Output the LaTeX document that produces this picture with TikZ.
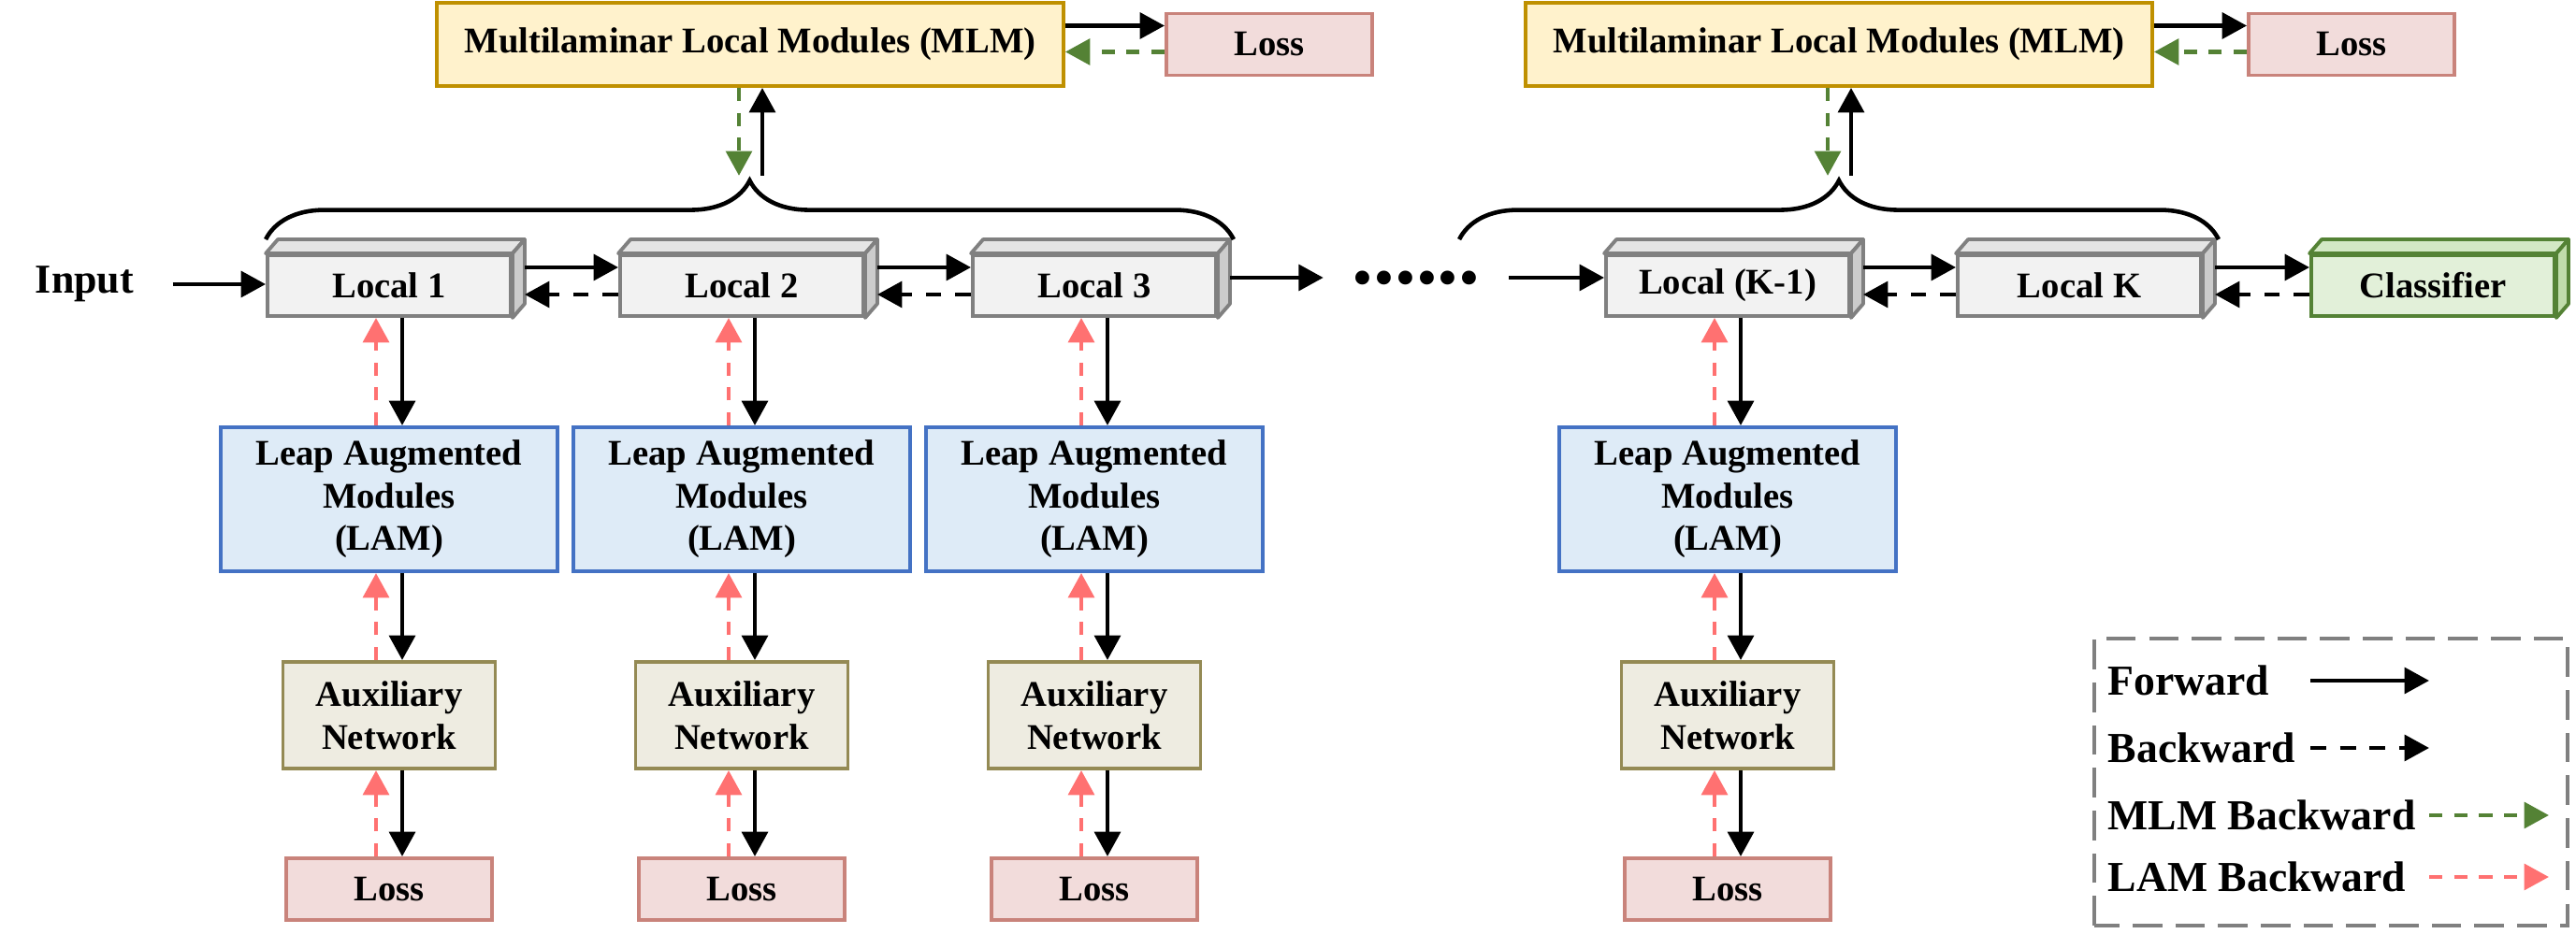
\documentclass[tikz,border=0pt]{standalone}
\usepackage{fontspec}
\setmainfont{Liberation Serif}
\usetikzlibrary{arrows.meta,calc,decorations.pathreplacing}

\definecolor{mlmfill}{HTML}{FFF2CC}
\definecolor{mlmline}{HTML}{BF9000}
\definecolor{lossfill}{HTML}{F2DCDB}
\definecolor{lossline}{HTML}{C9837B}
\definecolor{lamfill}{HTML}{DEEBF7}
\definecolor{lamline}{HTML}{4472C4}
\definecolor{auxfill}{HTML}{EEECE1}
\definecolor{auxline}{HTML}{948A54}
\definecolor{clsfill}{HTML}{E2F0D9}
\definecolor{clstop}{HTML}{D3E8C5}
\definecolor{clsside}{HTML}{C0DCAB}
\definecolor{clsline}{HTML}{548235}
\definecolor{mlmgreen}{HTML}{548235}
\definecolor{lamred}{HTML}{FF7171}

\newcommand{\slabfaces}[4]{%
  \filldraw[draw=#2,fill=#3,line width=1.1pt,line join=round] (#1.north west) -- ++(0.13,0.15) -- ($(#1.north east)+(0.13,0.15)$) -- (#1.north east) -- cycle;
  \filldraw[draw=#2,fill=#4,line width=1.1pt,line join=round] (#1.north east) -- ++(0.13,0.15) -- ($(#1.south east)+(0.13,0.15)$) -- (#1.south east) -- cycle;
}

\begin{document}
\begin{tikzpicture}[
    font=\bfseries\fontsize{11}{13}\selectfont,
    box/.style={draw,line width=1.1pt,align=center,inner sep=0pt},
    mlm/.style={box,draw=mlmline,fill=mlmfill,minimum width=6.7cm,minimum height=0.89cm},
    loss/.style={box,draw=lossline,fill=lossfill,minimum width=2.2cm,minimum height=0.66cm},
    lam/.style={box,draw=lamline,fill=lamfill,minimum width=3.6cm,minimum height=1.54cm},
    aux/.style={box,draw=auxline,fill=auxfill,minimum width=2.27cm,minimum height=1.14cm},
    slab/.style={box,draw=gray,fill=gray!10,minimum width=2.6cm,minimum height=0.65cm},
    fwd/.style={line width=1.4pt,-{Triangle[length=7.5pt,width=7.8pt]}},
    bwd/.style={fwd,dash pattern=on 4.8pt off 4.2pt},
    mlmback/.style={fwd,mlmgreen,dash pattern=on 4pt off 3.6pt},
    lamback/.style={fwd,lamred,dash pattern=on 4pt off 3.6pt},
    curly/.style={line width=1.3pt,decorate,decoration={brace,amplitude=0.63cm}},
    keytext/.style={anchor=west,inner sep=0pt,font=\bfseries\fontsize{13}{15}\selectfont}
]
\useasboundingbox (0,0) rectangle (27.54,9.99);

\node[mlm] (mlmA) at (8.02,9.515) {Multilaminar Local Modules (MLM)};
\node[loss] (lossTA) at (13.57,9.515) {Loss};
\node[mlm] (mlmB) at (19.66,9.515) {Multilaminar Local Modules (MLM)};
\node[loss] (lossTB) at (25.14,9.515) {Loss};
\draw[fwd] ($(mlmA.east)+(0,0.2)$) -- ($(lossTA.west)+(0,0.2)$);
\draw[mlmback] ($(lossTA.west)+(0,-0.08)$) -- ($(mlmA.east)+(0,-0.08)$);
\draw[fwd] ($(mlmB.east)+(0,0.2)$) -- ($(lossTB.west)+(0,0.2)$);
\draw[mlmback] ($(lossTB.west)+(0,-0.08)$) -- ($(mlmB.east)+(0,-0.08)$);

\node[inner xsep=0.41cm,font=\bfseries\fontsize{12.5}{14}\selectfont] (input) at (0.905,6.95) {Input};
\node[slab] (locA) at (4.16,6.935) {Local 1};
\node[slab] (locB) at (7.93,6.935) {Local 2};
\node[slab] (locC) at (11.70,6.935) {Local 3};
\node[inner xsep=0.3cm,inner ysep=0pt,text height=0.128cm,text depth=0pt,font=\bfseries\fontsize{26}{26}\selectfont] (dots) at (15.14,7.02) {......};
\node[slab] (locK1) at (18.47,6.935) {Local (K-1)};
\node[slab] (locK) at (22.23,6.935) {Local K};
\node[slab,draw=clsline,fill=clsfill] (clsf) at (26.01,6.935) {Classifier};
\slabfaces{locA}{gray}{gray!20}{gray!40}
\slabfaces{locB}{gray}{gray!20}{gray!40}
\slabfaces{locC}{gray}{gray!20}{gray!40}
\slabfaces{locK1}{gray}{gray!20}{gray!40}
\slabfaces{locK}{gray}{gray!20}{gray!40}
\slabfaces{clsf}{clsline}{clstop}{clsside}

\draw[fwd] (input.east) -- (input.east -| locA.west);
\draw[fwd] ($(locA.east)+(0.13,0.195)$) -- ($(locB.west)+(0,0.195)$);
\draw[bwd] ($(locB.west)+(0,-0.095)$) -- ($(locA.east)+(0.13,-0.095)$);
\draw[fwd] ($(locB.east)+(0.13,0.195)$) -- ($(locC.west)+(0,0.195)$);
\draw[bwd] ($(locC.west)+(0,-0.095)$) -- ($(locB.east)+(0.13,-0.095)$);
\draw[fwd] ($(locC.east |- dots.west)+(0.13,0)$) -- (dots.west);
\draw[fwd] (dots.east) -- (dots.east -| locK1.west);
\draw[fwd] ($(locK1.east)+(0.13,0.195)$) -- ($(locK.west)+(0,0.195)$);
\draw[bwd] ($(locK.west)+(0,-0.095)$) -- ($(locK1.east)+(0.13,-0.095)$);
\draw[fwd] ($(locK.east)+(0.13,0.195)$) -- ($(clsf.west)+(0,0.195)$);
\draw[bwd] ($(clsf.west)+(0,-0.095)$) -- ($(locK.east)+(0.13,-0.095)$);

\draw[curly] ($(locA.north west)+(0,0.15)$) -- ($(locC.north east)+(0.17,0.15)$);
\draw[curly] ($(locK1.north west)+(-1.55,0.15)$) -- ($(locK.north east)+(0.17,0.15)$);
\draw[mlmback] ($(mlmA.south)+(-0.12,0)$) -- ++(0,-0.94);
\draw[fwd] ($(mlmA.south)+(0.13,-0.94)$) -- ($(mlmA.south)+(0.13,0)$);
\draw[mlmback] ($(mlmB.south)+(-0.12,0)$) -- ++(0,-0.94);
\draw[fwd] ($(mlmB.south)+(0.13,-0.94)$) -- ($(mlmB.south)+(0.13,0)$);

\node[lam] (lamA) at (4.16,4.65) {Leap Augmented\\Modules\\(LAM)};
\node[aux] (auxA) at (4.16,2.34) {Auxiliary\\Network};
\node[loss] (lossA) at (4.16,0.48) {Loss};
\node[lam] (lamB) at (7.93,4.65) {Leap Augmented\\Modules\\(LAM)};
\node[aux] (auxB) at (7.93,2.34) {Auxiliary\\Network};
\node[loss] (lossB) at (7.93,0.48) {Loss};
\node[lam] (lamC) at (11.70,4.65) {Leap Augmented\\Modules\\(LAM)};
\node[aux] (auxC) at (11.70,2.34) {Auxiliary\\Network};
\node[loss] (lossC) at (11.70,0.48) {Loss};
\node[lam] (lamK1) at (18.47,4.65) {Leap Augmented\\Modules\\(LAM)};
\node[aux] (auxK1) at (18.47,2.34) {Auxiliary\\Network};
\node[loss] (lossK1) at (18.47,0.48) {Loss};

\draw[fwd] ($(locA.south)+(0.14,0)$) -- ($(lamA.north)+(0.14,0)$);
\draw[lamback] ($(lamA.north)+(-0.14,0)$) -- ($(locA.south)+(-0.14,0)$);
\draw[fwd] ($(lamA.south)+(0.14,0)$) -- ($(auxA.north)+(0.14,0)$);
\draw[lamback] ($(auxA.north)+(-0.14,0)$) -- ($(lamA.south)+(-0.14,0)$);
\draw[fwd] ($(auxA.south)+(0.14,0)$) -- ($(lossA.north)+(0.14,0)$);
\draw[lamback] ($(lossA.north)+(-0.14,0)$) -- ($(auxA.south)+(-0.14,0)$);

\draw[fwd] ($(locB.south)+(0.14,0)$) -- ($(lamB.north)+(0.14,0)$);
\draw[lamback] ($(lamB.north)+(-0.14,0)$) -- ($(locB.south)+(-0.14,0)$);
\draw[fwd] ($(lamB.south)+(0.14,0)$) -- ($(auxB.north)+(0.14,0)$);
\draw[lamback] ($(auxB.north)+(-0.14,0)$) -- ($(lamB.south)+(-0.14,0)$);
\draw[fwd] ($(auxB.south)+(0.14,0)$) -- ($(lossB.north)+(0.14,0)$);
\draw[lamback] ($(lossB.north)+(-0.14,0)$) -- ($(auxB.south)+(-0.14,0)$);

\draw[fwd] ($(locC.south)+(0.14,0)$) -- ($(lamC.north)+(0.14,0)$);
\draw[lamback] ($(lamC.north)+(-0.14,0)$) -- ($(locC.south)+(-0.14,0)$);
\draw[fwd] ($(lamC.south)+(0.14,0)$) -- ($(auxC.north)+(0.14,0)$);
\draw[lamback] ($(auxC.north)+(-0.14,0)$) -- ($(lamC.south)+(-0.14,0)$);
\draw[fwd] ($(auxC.south)+(0.14,0)$) -- ($(lossC.north)+(0.14,0)$);
\draw[lamback] ($(lossC.north)+(-0.14,0)$) -- ($(auxC.south)+(-0.14,0)$);

\draw[fwd] ($(locK1.south)+(0.14,0)$) -- ($(lamK1.north)+(0.14,0)$);
\draw[lamback] ($(lamK1.north)+(-0.14,0)$) -- ($(locK1.south)+(-0.14,0)$);
\draw[fwd] ($(lamK1.south)+(0.14,0)$) -- ($(auxK1.north)+(0.14,0)$);
\draw[lamback] ($(auxK1.north)+(-0.14,0)$) -- ($(lamK1.south)+(-0.14,0)$);
\draw[fwd] ($(auxK1.south)+(0.14,0)$) -- ($(lossK1.north)+(0.14,0)$);
\draw[lamback] ($(lossK1.north)+(-0.14,0)$) -- ($(auxK1.south)+(-0.14,0)$);

\draw[gray,line width=1.2pt,dash pattern=on 9pt off 4pt] (22.39,0.09) rectangle (27.45,3.16);
\node[keytext] (keyfwd) at (22.53,2.71) {Forward};
\node[keytext] (keybwd) at (22.53,1.99) {Backward};
\node[keytext] (keymlm) at (22.53,1.27) {MLM Backward};
\node[keytext] (keylam) at (22.53,0.61) {LAM Backward};
\draw[fwd] (24.70,2.71) -- (25.97,2.71);
\draw[bwd] (24.70,1.99) -- (25.97,1.99);
\draw[mlmback] (25.97,1.27) -- (27.25,1.27);
\draw[lamback] (25.97,0.61) -- (27.25,0.61);
\end{tikzpicture}
\end{document}
